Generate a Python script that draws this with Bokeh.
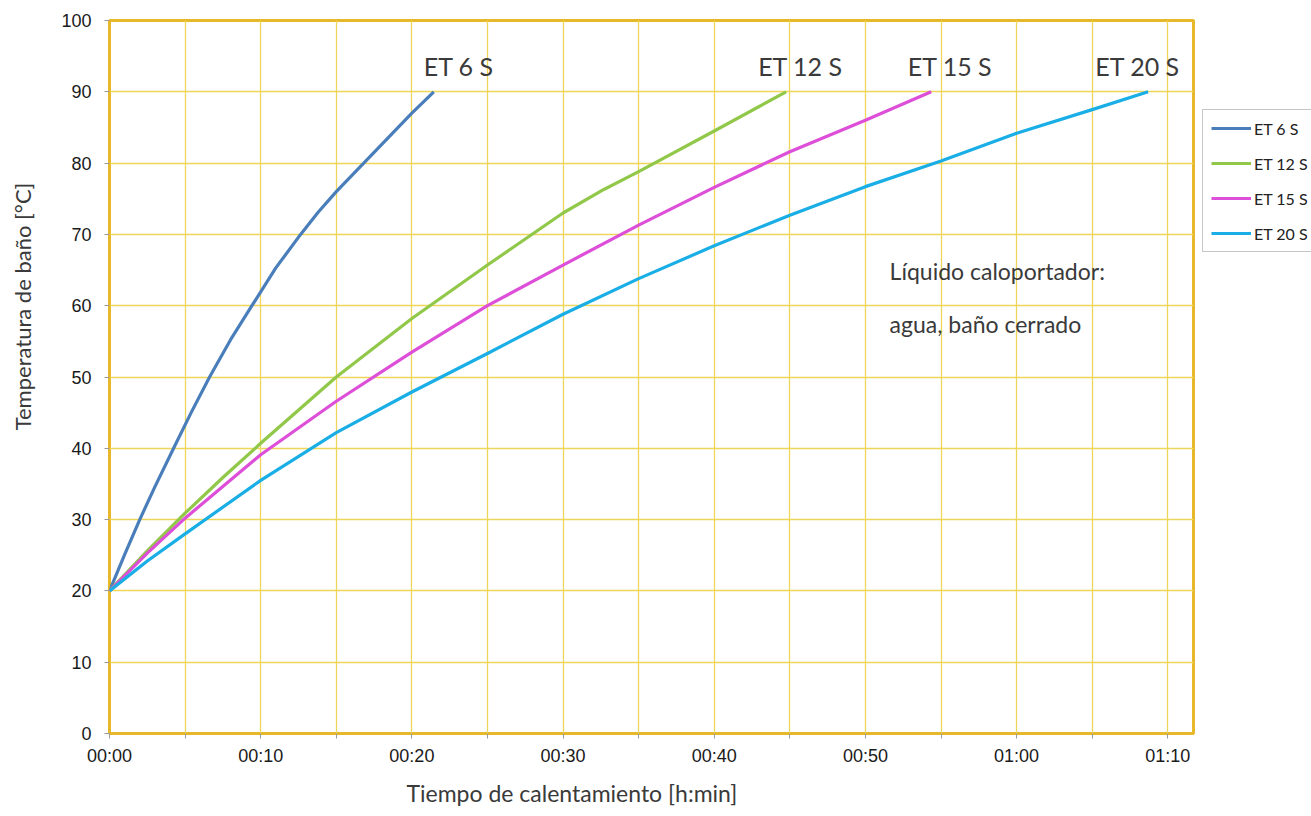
from bokeh.plotting import figure
from bokeh.layouts import row
from bokeh.models import Legend, LegendItem, Title, Label, FixedTicker, ColumnDataSource
from bokeh.embed import file_html
from bokeh.resources import INLINE
from bokeh.core.properties import value

# ---------------- data (time in minutes, temperature in °C) ----------------
series_names = ["ET 6 S", "ET 12 S", "ET 15 S", "ET 20 S"]
series_colors = ["#4A7EBB", "#92C84A", "#DD4FD8", "#1AAEE6"]

t_et6 = [0, 1, 2, 3, 4.24, 5.4, 6.62, 8, 9.42, 11, 12.64, 13.8, 15, 17.5, 20, 21.45]
y_et6 = [20, 25.1, 30, 34.6, 40, 45.0, 50, 55.2, 60, 65.3, 70, 73.1, 76, 81.5, 87, 90]

t_et12 = [0, 2.5, 5, 7.5, 10, 15, 20, 25, 30, 32.7, 35, 40, 44.75]
y_et12 = [20, 25.6, 30.9, 35.9, 40.7, 50.0, 58.2, 65.7, 73.0, 76.3, 78.8, 84.5, 90]

t_et15 = [0, 2.5, 5, 10, 15, 20, 25, 30, 35, 40, 45, 50, 54.35]
y_et15 = [20, 25.3, 30.2, 39.1, 46.6, 53.5, 60.0, 65.7, 71.3, 76.6, 81.6, 86.0, 90]

t_et20 = [0, 2.5, 5, 10, 15, 20, 25, 30, 35, 40, 45, 50, 55, 60, 65, 68.7]
y_et20 = [20, 24.2, 28.0, 35.5, 42.2, 47.9, 53.3, 58.8, 63.8, 68.4, 72.7, 76.7, 80.3, 84.2, 87.5, 90]

series_t = [t_et6, t_et12, t_et15, t_et20]
series_y = [y_et6, y_et12, y_et15, y_et20]

x_tick_values = [0, 10, 20, 30, 40, 50, 60, 70]
x_tick_labels = ["00:00", "00:10", "00:20", "00:30", "00:40", "00:50", "01:00", "01:10"]
x_minor_values = [5, 15, 25, 35, 45, 55, 65]
y_tick_values = [0, 10, 20, 30, 40, 50, 60, 70, 80, 90, 100]

# top labels of the curves
curve_label_x = [23.1, 45.7, 55.6, 68.0]
curve_label_y = [93.6, 93.6, 93.6, 93.6]

note_lines = ["Líquido caloportador:", "agua, baño cerrado"]
note_x = [51.6, 51.6]
note_y = [64.9, 57.4]
x_title = "Tiempo de calentamiento [h:min]"
y_title = "Temperatura de baño [°C]"

# ---------------- layout constants ----------------
H = 816
LEFT_W = 45          # strip holding the y title
LEGEND_W = 110       # strip holding the legend
MAIN_W = 1311 - LEFT_W - LEGEND_W
FRAME_BOTTOM = 733   # page y of the plot frame bottom (frames are aligned in the row)
GOLD = "#E6B82A"
GRID = "#EED65A"
TXT = "#3A3A3A"

# ---------------- main chart ----------------
p = figure(width=MAIN_W, height=H, x_range=(0, 71.7), y_range=(0, 100),
           output_backend="svg", toolbar_location=None,
           min_border_left=109 - LEFT_W, min_border_right=8,
           min_border_top=20, min_border_bottom=83)
p.background_fill_color = "white"
p.border_fill_color = "white"
p.outline_line_color = GOLD
p.outline_line_width = 3

p.xaxis.ticker = FixedTicker(ticks=x_tick_values, minor_ticks=x_minor_values)
p.xaxis.major_label_overrides = {v: l for v, l in zip(x_tick_values, x_tick_labels)}
p.xaxis.axis_line_color = None
p.xaxis.major_tick_line_color = "#9A9A9A"
p.xaxis.minor_tick_line_color = "#9A9A9A"
p.xaxis.major_tick_in = 0
p.xaxis.major_tick_out = 5
p.xaxis.minor_tick_in = 0
p.xaxis.minor_tick_out = 5
p.xaxis.major_label_standoff = 7
p.xaxis.major_label_text_font = "Liberation Sans"
p.xaxis.major_label_text_font_size = "18px"
p.xaxis.major_label_text_color = "#1A1A1A"

p.yaxis.ticker = FixedTicker(ticks=y_tick_values)
p.yaxis.axis_line_color = None
p.yaxis.major_tick_line_color = "#9A9A9A"
p.yaxis.minor_tick_line_color = None
p.yaxis.major_tick_in = 0
p.yaxis.major_tick_out = 5
p.yaxis.major_label_standoff = 13
p.yaxis.major_label_text_font = "Liberation Sans"
p.yaxis.major_label_text_font_size = "18px"
p.yaxis.major_label_text_color = "#1A1A1A"

p.xgrid.grid_line_color = GRID
p.xgrid.minor_grid_line_color = GRID
p.xgrid.grid_line_width = 1.3
p.xgrid.minor_grid_line_width = 1.3
p.ygrid.grid_line_color = GRID
p.ygrid.grid_line_width = 1.3

for name, color, tt, yy in zip(series_names, series_colors, series_t, series_y):
    src = ColumnDataSource(dict(t=tt, y=yy))
    p.line("t", "y", source=src, line_color=color, line_width=3.2, line_join="round")

lab_src = ColumnDataSource(dict(x=curve_label_x, y=curve_label_y, txt=series_names))
p.text("x", "y", text="txt", source=lab_src, text_font=value("Lato"),
       text_font_size="25px", text_color=TXT, text_align="center",
       text_baseline="alphabetic")

note_src = ColumnDataSource(dict(x=note_x, y=note_y, txt=note_lines))
p.text("x", "y", text="txt", source=note_src, text_font=value("Lato"),
       text_font_size="23px", text_color=TXT, text_align="left",
       text_baseline="middle")

# x title, shifted left like the reference
p.add_layout(Title(text=x_title, align="left", offset=297, standoff=16,
                   text_font="Lato", text_font_size="23px", text_font_style="normal",
                   text_color=TXT), "below")

# ---------------- left strip: y title ----------------
pl = figure(width=LEFT_W, height=H, x_range=(0, 1), y_range=(0, 1),
            output_backend="svg", toolbar_location=None,
            x_axis_type=None, y_axis_type=None, min_border=0)
pl.outline_line_color = None
pl.grid.visible = False
pl.add_layout(Label(x=22, y=FRAME_BOTTOM - 306, x_units="screen", y_units="screen",
                    text=y_title, angle=1.5708, text_font="Lato",
                    text_font_size="22px", text_color=TXT,
                    text_align="center", text_baseline="middle"))

# ---------------- right strip: legend ----------------
pr = figure(width=LEGEND_W, height=H, x_range=(1000, 1001), y_range=(1000, 1001),
            output_backend="svg", toolbar_location=None,
            x_axis_type=None, y_axis_type=None, min_border=0)
pr.outline_line_color = None
pr.grid.visible = False
items = []
for name, color, tt, yy in zip(series_names, series_colors, series_t, series_y):
    src = ColumnDataSource(dict(t=tt, y=yy))
    r = pr.line("t", "y", source=src, line_color=color, line_width=3.2)
    items.append(LegendItem(label=name, renderers=[r]))
legend = Legend(items=items, location=(1, FRAME_BOTTOM - 252), orientation="vertical",
                border_line_color="#8C8C8C", border_line_width=1,
                background_fill_color="white", background_fill_alpha=1.0,
                padding=8, spacing=15, margin=0,
                glyph_width=40, glyph_height=20, label_height=20,
                label_standoff=3, label_text_font="Lato",
                label_text_font_size="16px", label_text_color="#222222")
pr.add_layout(legend, "center")

layout = row(pl, p, pr, spacing=0)
open("out.html", "w").write(file_html(layout, INLINE))
